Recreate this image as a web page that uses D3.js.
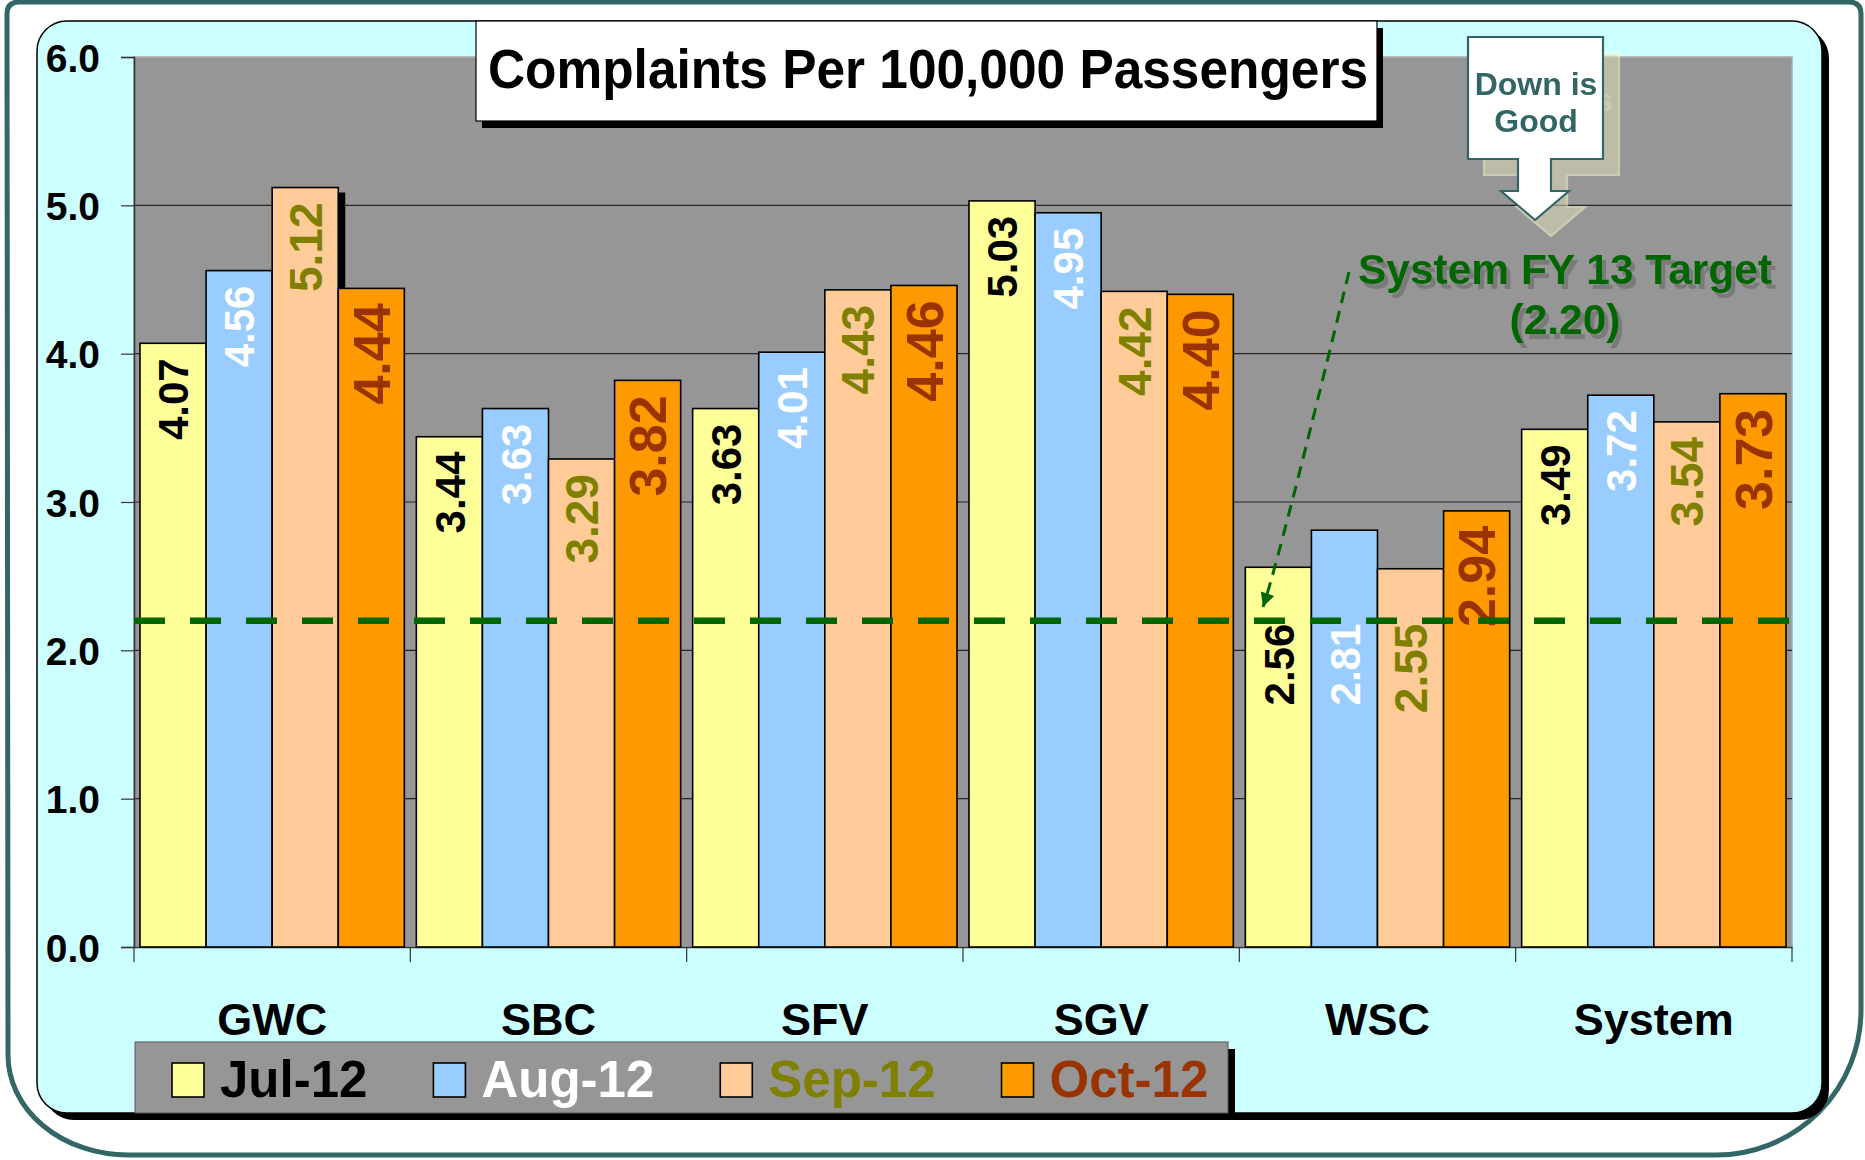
<!DOCTYPE html>
<html>
<head>
<meta charset="utf-8">
<script src="https://cdn.jsdelivr.net/npm/d3@7"></script>
<style>
  body { margin: 0; background: #fff; }
  svg { display: block; }
  text { font-family: "Liberation Sans", Arial, sans-serif; font-weight: bold; }
</style>
</head>
<body>
<div id="chart"></div>
<script>
// chart data
var regions = ["GWC", "SBC", "SFV", "SGV", "WSC", "System"];
var months = ["Jul-12", "Aug-12", "Sep-12", "Oct-12"];
var jul12 = [4.07, 3.44, 3.63, 5.03, 2.56, 3.49];
var aug12 = [4.56, 3.63, 4.01, 4.95, 2.81, 3.72];
var sep12 = [5.12, 3.29, 4.43, 4.42, 2.55, 3.54];
var oct12 = [4.44, 3.82, 4.46, 4.40, 2.94, 3.73];
var yTicks = [0, 1, 2, 3, 4, 5, 6];
var target = 2.20;
var title = "Complaints Per 100,000 Passengers";
var targetText = "System FY 13 Target";
var calloutText = ["Down is", "Good"];

(function (selector) {
    var W = 1865, H = 1160;
    var svg = d3.select(selector).append("svg")
        .attr("width", W)
        .attr("height", H);

    var series = [jul12, aug12, sep12, oct12];
    var fill = d3.scaleOrdinal().domain(months).range(["#FFFF99", "#99CCFF", "#FFCC99", "#FF9900"]);
    var ink = d3.scaleOrdinal().domain(months).range(["#000000", "#FFFFFF", "#808000", "#993300"]);
    var labelSize = d3.scaleOrdinal().domain(months).range([42, 42, 46, 52]);
    // these three were pushed under the target line in the original
    var labelsBelowTarget = ["WSC|Jul-12", "WSC|Aug-12", "WSC|Sep-12"];

    var rows = [];
    regions.forEach(function (r, i) {
        months.forEach(function (m, j) {
            rows.push({ region: r, month: m, value: series[j][i] });
        });
    });
    var maxValue = d3.max(rows, function (d) { return d.value; });

    var defs = svg.append("defs");
    // grey drop shadow for the target caption
    defs.append("filter")
        .attr("id", "txtShadow")
        .attr("x", "-10%").attr("y", "-10%").attr("width", "130%").attr("height", "140%")
        .append("feDropShadow")
        .attr("dx", 4).attr("dy", 5).attr("stdDeviation", 0)
        .attr("flood-color", "#7a7a7a").attr("flood-opacity", 1);

    // pale tinted offset copy behind the callout (white -> tan, teal -> pale yellow)
    var ghost = defs.append("filter")
        .attr("id", "ghost")
        .attr("x", "-10%").attr("y", "-10%").attr("width", "140%").attr("height", "140%");
    ghost.append("feOffset").attr("in", "SourceGraphic").attr("dx", 16).attr("dy", 16).attr("result", "off");
    ghost.append("feColorMatrix").attr("in", "off").attr("type", "matrix")
        .attr("values", "-0.245 0 0 0 1.029  0 -0.352 0 0 1.121  0 0 -0.157 0 0.651  0 0 0 0.5 0")
        .attr("result", "tint");
    var gm = ghost.append("feMerge");
    gm.append("feMergeNode").attr("in", "tint");
    gm.append("feMergeNode").attr("in", "SourceGraphic");

    // outer teal frame
    svg.append("path")
        .attr("d", "M7,14 Q7,2 19,2 H1849 Q1861,2 1861,14 V1010 A145,145 0 0 1 1716,1155 H128 A120,100 0 0 1 8,1055 Z")
        .attr("fill", "#fff")
        .attr("stroke", "#336666")
        .attr("stroke-width", 5);

    // cyan panel + shadow
    svg.append("rect")
        .attr("x", 44).attr("y", 28).attr("width", 1785).attr("height", 1092)
        .attr("rx", 30).attr("fill", "#000");
    svg.append("rect")
        .attr("x", 37).attr("y", 21).attr("width", 1785).attr("height", 1092)
        .attr("rx", 30).attr("fill", "#CCFFFF")
        .attr("stroke", "#000").attr("stroke-width", 1.5);

    var x0 = d3.scaleBand().domain(regions).range([134, 1792]);
    var x1 = d3.scaleBand().domain(months).range([6, x0.bandwidth() - 6]);
    var y = d3.scaleLinear().domain([0, 6]).range([947, 57]);

    // plot area
    svg.append("rect")
        .attr("x", x0.range()[0]).attr("y", y(6))
        .attr("width", x0.range()[1] - x0.range()[0]).attr("height", y(0) - y(6))
        .attr("fill", "#969696")
        .attr("stroke", "#ababab").attr("stroke-width", 1.5);

    svg.append("g")
        .selectAll("line")
        .data(yTicks.filter(function (d) { return d > 0 && d < 6; }))
        .enter().append("line")
        .attr("x1", x0.range()[0]).attr("x2", x0.range()[1])
        .attr("y1", function (d) { return y(d); })
        .attr("y2", function (d) { return y(d); })
        .attr("stroke", "#262626").attr("stroke-width", 1.2);

    // y axis
    var yAxis = svg.append("g")
        .attr("transform", "translate(" + x0.range()[0] + ",0)")
        .call(d3.axisLeft(y).tickValues(yTicks).tickFormat(d3.format(".1f")).tickSize(13).tickPadding(21));
    yAxis.select(".domain").attr("stroke", "#333").attr("stroke-width", 1.5);
    yAxis.selectAll(".tick line").attr("stroke", "#333").attr("stroke-width", 1.2);
    yAxis.selectAll(".tick text")
        .attr("font-size", 39)
        .attr("font-family", null)
        .attr("fill", "#000")
        .attr("dy", "0.36em");

    // x axis
    var xAxis = svg.append("g")
        .attr("transform", "translate(0," + y(0) + ")")
        .call(d3.axisBottom(x0).tickSize(0).tickPadding(0));
    xAxis.select(".domain").attr("stroke", "#333").attr("stroke-width", 1.5);
    xAxis.selectAll(".tick text")
        .attr("font-size", 45)
        .attr("font-family", null)
        .attr("fill", "#000")
        .attr("y", 88)
        .attr("dy", 0);

    var bounds = regions.map(function (d) { return x0(d); }).concat([x0.range()[1]]);
    xAxis.append("g")
        .selectAll("line")
        .data(bounds)
        .enter().append("line")
        .attr("x1", function (d) { return d; })
        .attr("x2", function (d) { return d; })
        .attr("y1", 0).attr("y2", 15)
        .attr("stroke", "#333").attr("stroke-width", 1.2);

    // bars
    var barG = svg.append("g");
    barG.selectAll("rect.shadow")
        .data(rows.filter(function (d) { return d.value === maxValue; }))
        .enter().append("rect")
        .attr("class", "shadow")
        .attr("x", function (d) { return x0(d.region) + x1(d.month) + 7; })
        .attr("y", function (d) { return y(d.value) + 5; })
        .attr("width", x1.bandwidth())
        .attr("height", function (d) { return y(0) - y(d.value) - 5; })
        .attr("fill", "#000");

    barG.selectAll("rect.bar")
        .data(rows)
        .enter().append("rect")
        .attr("class", "bar")
        .attr("x", function (d) { return x0(d.region) + x1(d.month); })
        .attr("y", function (d) { return y(d.value); })
        .attr("width", x1.bandwidth())
        .attr("height", function (d) { return y(0) - y(d.value); })
        .attr("fill", function (d) { return fill(d.month); })
        .attr("stroke", "#000")
        .attr("stroke-width", 1.6);

    // value labels, rotated, inside end
    barG.selectAll("text.val")
        .data(rows)
        .enter().append("text")
        .attr("class", "val")
        .attr("transform", function (d) {
            var cx = x0(d.region) + x1(d.month) + x1.bandwidth() / 2;
            var top = y(d.value) + 15;
            if (labelsBelowTarget.indexOf(d.region + "|" + d.month) >= 0) top = y(target) + 3;
            return "translate(" + cx + "," + top + ") rotate(-90)";
        })
        .attr("text-anchor", "end")
        .attr("dy", "0.36em")
        .attr("font-size", function (d) { return labelSize(d.month); })
        .attr("fill", function (d) { return ink(d.month); })
        .text(function (d) { return d3.format(".2f")(d.value); });

    // target line
    svg.append("line")
        .attr("x1", x0.range()[0]).attr("x2", x0.range()[1])
        .attr("y1", y(target)).attr("y2", y(target))
        .attr("stroke", "#006600")
        .attr("stroke-width", 6.5)
        .attr("stroke-dasharray", "31,25");

    // target annotation
    defs.append("marker")
        .attr("id", "tip")
        .attr("markerUnits", "userSpaceOnUse")
        .attr("viewBox", "0 0 10 10")
        .attr("refX", 10).attr("refY", 5)
        .attr("markerWidth", 16).attr("markerHeight", 14)
        .attr("orient", "auto")
        .append("path")
        .attr("d", "M0,0 L10,5 L0,10 Z")
        .attr("fill", "#006600");

    svg.append("path")
        .attr("d", "M1349,272 Q1279,560 1263,607")
        .attr("fill", "none")
        .attr("stroke", "#006600")
        .attr("stroke-width", 3)
        .attr("stroke-dasharray", "12,8")
        .attr("marker-end", "url(#tip)");

    svg.append("g")
        .attr("filter", "url(#txtShadow)")
        .selectAll("text")
        .data([targetText, "(" + d3.format(".2f")(target) + ")"])
        .enter().append("text")
        .attr("x", 1565)
        .attr("y", function (d, i) { return 284 + i * 50; })
        .attr("text-anchor", "middle")
        .attr("font-size", 42.5)
        .attr("fill", "#006600")
        .text(function (d) { return d; });

    // "Down is Good" callout
    var callout = svg.append("g").attr("filter", "url(#ghost)");
    callout.append("path")
        .attr("d", "M1468,37 H1603 V159 H1551 V191 H1569 L1535,220 L1501,191 H1518 V159 H1468 Z")
        .attr("fill", "#fff")
        .attr("stroke", "#336666")
        .attr("stroke-width", 2.2);
    callout.selectAll("text")
        .data(calloutText)
        .enter().append("text")
        .attr("x", 1536)
        .attr("y", function (d, i) { return 95 + i * 37; })
        .attr("text-anchor", "middle")
        .attr("font-size", 32)
        .attr("fill", "#336666")
        .text(function (d) { return d; });

    // title box
    svg.append("rect")
        .attr("x", 482).attr("y", 28).attr("width", 901).attr("height", 100)
        .attr("fill", "#000");
    svg.append("rect")
        .attr("x", 476).attr("y", 21).attr("width", 901).attr("height", 100)
        .attr("fill", "#fff")
        .attr("stroke", "#000").attr("stroke-width", 1.2);
    svg.append("text")
        .attr("x", 928).attr("y", 88)
        .attr("text-anchor", "middle")
        .attr("font-size", 55)
        .attr("textLength", 880)
        .attr("lengthAdjust", "spacingAndGlyphs")
        .attr("fill", "#000")
        .text(title);

    // legend
    svg.append("rect")
        .attr("x", 142).attr("y", 1049).attr("width", 1093).attr("height", 71)
        .attr("fill", "#000");
    svg.append("rect")
        .attr("x", 135).attr("y", 1042).attr("width", 1093).attr("height", 71)
        .attr("fill", "#969696")
        .attr("stroke", "#555").attr("stroke-width", 1);

    var lx = 172;
    months.forEach(function (m) {
        var item = svg.append("g").attr("transform", "translate(" + lx + ",0)");
        item.append("rect")
            .attr("x", 0).attr("y", 1063)
            .attr("width", 32).attr("height", 34)
            .attr("fill", fill(m))
            .attr("stroke", "#000").attr("stroke-width", 1.6);
        var t = item.append("text")
            .attr("x", 48).attr("y", 1097)
            .attr("font-size", 51)
            .attr("fill", ink(m))
            .text(m);
        lx += 48 + t.node().getComputedTextLength() + 66;
    });
})("#chart");
</script>
</body>
</html>
